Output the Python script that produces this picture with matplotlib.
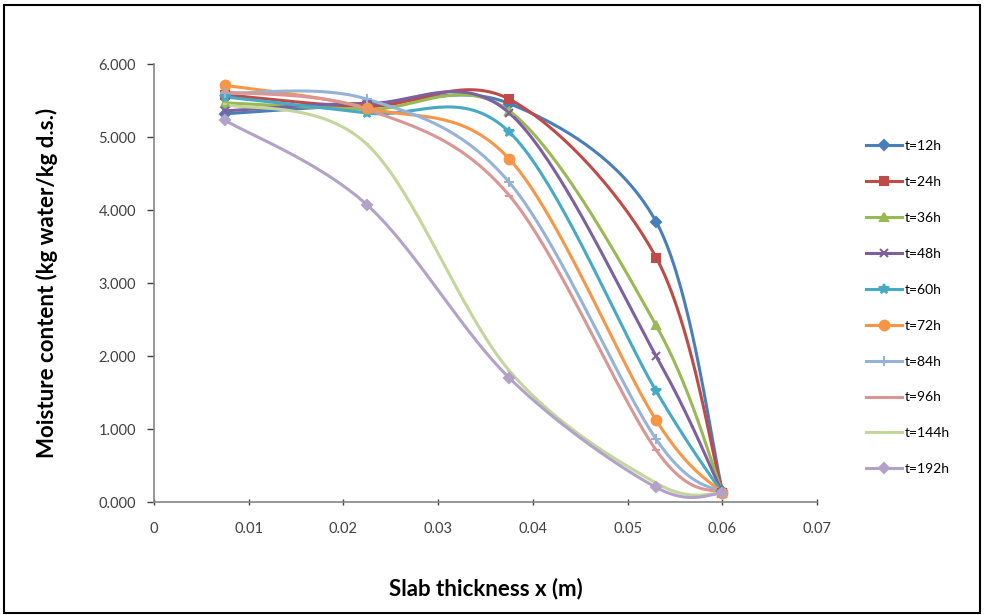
import numpy as np
import matplotlib.pyplot as plt
from matplotlib.patches import Rectangle

# slab position (m)
x = [0.0075, 0.0225, 0.0375, 0.053, 0.060]

# moisture content (kg water / kg d.s.) per drying time
labels = ["t=12h", "t=24h", "t=36h", "t=48h", "t=60h",
          "t=72h", "t=84h", "t=96h", "t=144h", "t=192h"]
m_12 = [5.32, 5.44, 5.46, 3.84, 0.15]
m_24 = [5.58, 5.42, 5.52, 3.35, 0.13]
m_36 = [5.47, 5.38, 5.36, 2.42, 0.13]
m_48 = [5.36, 5.46, 5.33, 2.00, 0.12]
m_60 = [5.55, 5.33, 5.07, 1.52, 0.12]
m_72 = [5.71, 5.40, 4.70, 1.12, 0.12]
m_84 = [5.60, 5.52, 4.38, 0.86, 0.12]
m_96 = [5.62, 5.38, 4.20, 0.71, 0.12]
m_144 = [5.45, 4.90, 1.80, 0.26, 0.12]
m_192 = [5.23, 4.07, 1.70, 0.20, 0.12]
series = [m_12, m_24, m_36, m_48, m_60, m_72, m_84, m_96, m_144, m_192]

colors = ["#4A7EBB", "#BE4B48", "#98B954", "#7D60A0", "#46AAC5",
          "#F79646", "#95B3D7", "#D99694", "#C3D69B", "#B3A2C7"]
markers = ["D", "s", "^", "x", "*", "o", "+", "_", "_", "D"]
msizes = [5, 6, 6, 6, 7, 7, 7, 6, 3, 5]


# Excel style smoothed line (Catmull-Rom bezier)
def smooth(xs, ys, n=40):
    p = np.column_stack([xs, ys])
    p = np.vstack([p[0], p, p[-1]])
    out = []
    for i in range(1, len(p) - 2):
        p0, p1, p2, p3 = p[i - 1], p[i], p[i + 1], p[i + 2]
        c1 = p1 + (p2 - p0) / 6
        c2 = p2 - (p3 - p1) / 6
        t = np.linspace(0, 1, n)[:, None]
        b = ((1 - t) ** 3) * p1 + 3 * ((1 - t) ** 2) * t * c1 \
            + 3 * (1 - t) * t ** 2 * c2 + t ** 3 * p2
        out.append(b if i == 1 else b[1:])
    b = np.vstack(out)
    return b[:, 0], b[:, 1]


plt.rcParams["font.family"] = ["Lato", "DejaVu Sans"]

fig = plt.figure(figsize=(9.84, 6.15), dpi=100)
fig.patches.append(Rectangle((0.004, 0.004), 0.992, 0.988, transform=fig.transFigure,
                             fill=False, edgecolor="black", linewidth=1.5))
ax = fig.add_axes([0.1565, 0.1837, 0.674, 0.712])

for ys, lab, c, mk, ms in zip(series, labels, colors, markers, msizes):
    sx, sy = smooth(x, ys)
    ax.plot(sx, sy, color=c, linewidth=2.2, zorder=2)
    ax.plot(x, ys, linestyle="none", marker=mk, color=c, markersize=ms,
            markeredgewidth=1.5, zorder=3)
    ax.plot([], [], color=c, linewidth=2.2, marker=mk, markersize=ms,
            markeredgewidth=1.5, label=lab)

ax.set_xlim(0, 0.07)
ax.set_ylim(0, 6)
ax.set_xticks(np.arange(0, 0.071, 0.01))
ax.set_xticklabels(["0", "0.01", "0.02", "0.03", "0.04", "0.05", "0.06", "0.07"])
ax.set_yticks(np.arange(0, 6.1, 1))
ax.set_yticklabels(["%.3f" % v for v in np.arange(0, 6.1, 1)])
ax.tick_params(axis="both", labelsize=10.5, colors="#404040", length=5, width=1)
ax.tick_params(axis="x", direction="inout", pad=12)
ax.tick_params(axis="y", pad=8)
for s in ["top", "right"]:
    ax.spines[s].set_visible(False)
for s in ["left", "bottom"]:
    ax.spines[s].set_color("#868686")
    ax.spines[s].set_linewidth(1.2)

ax.set_ylabel("Moisture content (kg water/kg d.s.)", fontsize=16, fontweight="bold", labelpad=29)
ax.set_xlabel("Slab thickness x (m)", fontsize=16, fontweight="bold", labelpad=30)

fig.legend(loc="upper left", bbox_to_anchor=(0.874, 0.781), frameon=False,
           fontsize=10, handlelength=2.6, handletextpad=0.2, labelspacing=1.72,
           borderaxespad=0)

fig.savefig("out.png", dpi=100)
